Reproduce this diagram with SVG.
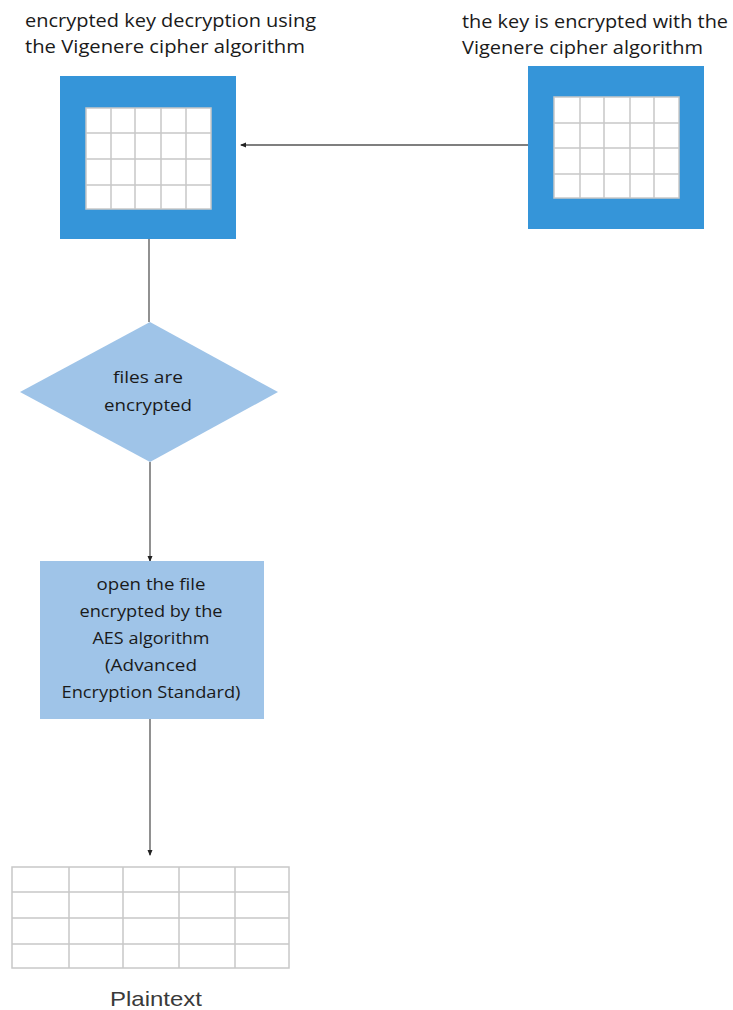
<svg xmlns="http://www.w3.org/2000/svg" width="733" height="1010" viewBox="0 0 733 1010">
<style>
.frame{fill:#3595d9}
.cell{fill:#fff;stroke:#c8c8c8;stroke-width:1.5}
.grid{stroke:#c8c8c8;stroke-width:1.5;fill:none}
.shape{fill:#9fc4e8}
.lbl{font-family:"Open Sans","Noto Sans",sans-serif;fill:#1a1a1a}
.conn{stroke:#555;stroke-width:1.3;fill:none}
</style>
<defs>
<marker id="arr" markerWidth="6" markerHeight="6" refX="5" refY="3" orient="auto" markerUnits="userSpaceOnUse">
<path d="M0,0.5 L6,3 L0,5.5 Z" fill="#222"/>
</marker>
</defs>
<g id="connectors">
<line class="conn" x1="528" y1="145" x2="241" y2="145" marker-end="url(#arr)"/>
<line class="conn" x1="149" y1="239" x2="149" y2="322"/>
<line class="conn" x1="150" y1="462" x2="150" y2="561" marker-end="url(#arr)"/>
<line class="conn" x1="150" y1="719" x2="150" y2="855" marker-end="url(#arr)"/>
</g>
<g id="decrypt-node">
<rect class="frame" x="60" y="76" width="176" height="163"/>
<rect class="cell" x="86" y="108" width="125" height="101"/>
<path class="grid" d="M111,108V209M135,108V209M161,108V209M186,108V209M86,133H211M86,159H211M86,185H211"/>
<text class="lbl" font-size="18" x="25" y="27" textLength="291" lengthAdjust="spacingAndGlyphs">encrypted key decryption using</text>
<text class="lbl" font-size="18" x="25" y="53" textLength="280" lengthAdjust="spacingAndGlyphs">the Vigenere cipher algorithm</text>
</g>
<g id="encrypt-node">
<rect class="frame" x="528" y="66" width="176" height="163"/>
<rect class="cell" x="554" y="97" width="125" height="101"/>
<path class="grid" d="M580,97V198M604,97V198M630,97V198M654,97V198M554,123H679M554,148H679M554,174H679"/>
<text class="lbl" font-size="18" x="462" y="28" textLength="266" lengthAdjust="spacingAndGlyphs">the key is encrypted with the</text>
<text class="lbl" font-size="18" x="462" y="54" textLength="241" lengthAdjust="spacingAndGlyphs">Vigenere cipher algorithm</text>
</g>
<g id="files-encrypted">
<polygon class="shape" points="150,322 278,392 150,462 20,392"/>
<text class="lbl" font-size="16" x="148" y="383" text-anchor="middle" textLength="70" lengthAdjust="spacingAndGlyphs">files are</text>
<text class="lbl" font-size="16" x="148" y="411" text-anchor="middle" textLength="88" lengthAdjust="spacingAndGlyphs">encrypted</text>
</g>
<g id="open-file">
<rect class="shape" x="40" y="561" width="224" height="158"/>
<text class="lbl" font-size="16" text-anchor="middle" x="151" y="590" textLength="109" lengthAdjust="spacingAndGlyphs">open the file</text>
<text class="lbl" font-size="16" text-anchor="middle" x="151" y="617" textLength="143" lengthAdjust="spacingAndGlyphs">encrypted by the</text>
<text class="lbl" font-size="16" text-anchor="middle" x="151" y="644" textLength="117" lengthAdjust="spacingAndGlyphs">AES algorithm</text>
<text class="lbl" font-size="16" text-anchor="middle" x="151" y="671" textLength="92" lengthAdjust="spacingAndGlyphs">(Advanced</text>
<text class="lbl" font-size="16" text-anchor="middle" x="151" y="698" textLength="179" lengthAdjust="spacingAndGlyphs">Encryption Standard)</text>
</g>
<g id="plaintext">
<rect class="cell" x="12" y="867" width="277" height="101"/>
<path class="grid" d="M69,867V968M123,867V968M179,867V968M235,867V968M12,892H289M12,918H289M12,944H289"/>
<text font-family="'Liberation Sans',Arial,sans-serif" font-size="21" fill="#3a3a3a" x="156" y="1006" text-anchor="middle" textLength="92" lengthAdjust="spacingAndGlyphs">Plaintext</text>
</g>
</svg>
